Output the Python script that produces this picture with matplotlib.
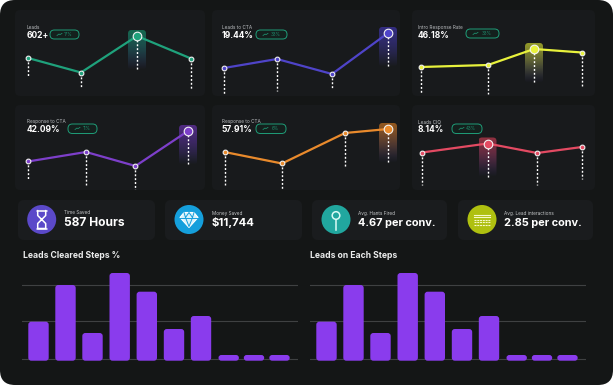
import numpy as np
import matplotlib
matplotlib.use('Agg')
import matplotlib.pyplot as plt
from matplotlib.patches import FancyBboxPatch, Circle, Polygon
from matplotlib.colors import to_rgb

W, H = 613, 385
plt.rcParams['font.family'] = ['Inter', 'DejaVu Sans']

BG = '#141616'
CARD = '#181a1c'
KPI_CARD = '#1a1c1e'

# line panels: values are heights above the bottom of each card
panel_titles = ['Leads', 'Leads to CTA', 'Intro Response Rate',
                'Response to CTA', 'Response to CTA', 'Leads CIQ']
panel_values = ['602+', '19.44%', '46.18%', '42.09%', '57.91%', '8.14%']
panel_pills = ['17%', '33%', '33%', '11%', '6%', '43%']
panel_colors = ['#1fa27c', '#4f44c9', '#e8f23c', '#7d3fca', '#e98a2c', '#e34a62']
panel_peak = [2, 3, 2, 3, 3, 1]

leads_x = [13, 66, 122, 176]
leads_y = [38, 23.5, 60, 37.5]
leads_stem = [20, 9, 25, 6]
cta_x = [12, 65, 120, 176]
cta_y = [28, 37, 22, 63]
cta_stem = [1, 5, 8, 28]
intro_x = [9, 76, 122, 170]
intro_y = [29, 31, 47, 43.5]
intro_stem = [2, 2, 12, 10]
resp_x = [13, 71, 120.5, 173]
resp_y = [28.5, 38, 24, 59]
resp_stem = [10, 5, 0, 24]
resp2_x = [12.5, 70, 133, 176]
resp2_y = [38, 26.5, 57, 61]
resp2_stem = [5, 1, 23, 27]
ciq_x = [10, 75.5, 125, 170]
ciq_y = [37.5, 46.5, 37, 43]
ciq_stem = [5, 12, 5, 11]

series_x = [leads_x, cta_x, intro_x, resp_x, resp2_x, ciq_x]
series_y = [leads_y, cta_y, intro_y, resp_y, resp2_y, ciq_y]
series_stem = [leads_stem, cta_stem, intro_stem, resp_stem, resp2_stem, ciq_stem]

# kpi row
kpi_labels = ['Time Saved', 'Money Saved', 'Avg. Hants Fired', 'Avg. Lead interactions']
kpi_values = ['587 Hours', '$11,744', '4.67 per conv.', '2.85 per conv.']
kpi_sizes = [8.6, 8.2, 7.9, 7.9]
kpi_colors = ['#5b49c9', '#159fdc', '#21a79f', '#afc010']

# bar charts
bar_titles = ['Leads Cleared Steps %', 'Leads on Each Steps']
bar_x = [16.5, 43.5, 70.5, 97.7, 124.8, 152, 179, 206.7, 232, 257.5]
bar_values = [39, 75.7, 27.7, 87.7, 69, 31.7, 44.7, 5.7, 5.7, 5.7]
bar_grid = [1.7, 39.4, 75.4]

# layout, pixel boxes (left, top, width, height)
card_boxes = [(15, 10, 190, 86), (212, 10, 188, 86), (412, 10, 183, 86),
              (15, 105, 190, 85), (212, 105, 188, 85), (412, 105, 183, 85)]
pill_boxes = [(50, 30, 29, 9), (256, 30, 31, 9), (466, 29, 33, 9),
              (68, 124, 29, 9.5), (256, 124, 30, 9.5), (452, 124, 30, 9.5)]
text_x = [27, 222, 418, 27, 222, 418]
text_y = [27.5, 27.5, 27.5, 121.5, 121.5, 121.5]
kpi_boxes = [(18, 200, 137, 40), (165, 200, 137, 40), (312, 200, 135, 40), (458, 200, 135, 40)]
kpi_cx = [41.7, 189, 336, 482]
kpi_tx = [64, 212, 358, 504]
bar_boxes = [(22, 270, 276, 95), (310, 270, 276, 95)]
bar_title_x = [23, 310]


def box_axes(fig, box):
    l, t, w, h = box
    ax = fig.add_axes([l / W, 1 - (t + h) / H, w / W, h / H])
    ax.set_xlim(0, w)
    ax.set_ylim(0, h)
    ax.axis('off')
    ax.patch.set_alpha(0)
    return ax


def rounded(ax, x, y, w, h, r, **kw):
    p = FancyBboxPatch((x, y), w, h, boxstyle=f'round,pad=0,rounding_size={r}', **kw)
    ax.add_patch(p)
    return p


def glow(ax, x, top, color):
    # gradient behind the highlighted point
    rgb = to_rgb(color)
    n = 64
    grad = np.zeros((n, 1, 4))
    t = np.linspace(0, 1, n)
    end = (0.16, 0.16, 0.30)
    for i in range(3):
        grad[:, 0, i] = rgb[i] * (1 - t) * 0.7 + end[i] * t
    grad[:, 0, 3] = 0.9 * (1 - t ** 3)
    l, b, w, h = x - 9, top - 40, 18, 40
    im = ax.imshow(grad, extent=(l, l + w, b, b + h), aspect='auto', zorder=1)
    clip = rounded(ax, l, b, w, h, 3.5, fc='none', ec='none')
    im.set_clip_path(clip)


def draw_panel(fig, i):
    ax = box_axes(fig, card_boxes[i])
    _, _, w, h = card_boxes[i]
    x, y, stem = series_x[i], series_y[i], series_stem[i]
    c = panel_colors[i]
    pk = panel_peak[i]
    glow(ax, x[pk], y[pk] + 6, c)
    ax.set_xlim(0, w)
    ax.set_ylim(0, h)
    for a, b, s in zip(x, y, stem):
        ax.plot([a, a], [b, s], color='white', lw=1.0, ls=(0, (1.4, 1.4)), zorder=2)
    ax.plot(x, y, color=c, lw=1.6, zorder=3, solid_capstyle='round')
    small = [j for j in range(len(x)) if j != pk]
    ax.plot([x[j] for j in small], [y[j] for j in small], 'o', ms=3.4, mfc=c,
            mec='#f0f0f0', mew=0.8, zorder=4)
    ax.plot([x[pk]], [y[pk]], 'o', ms=6.2, mfc=c, mec='#f4f4f4', mew=0.8, zorder=4)


def draw_icon(bg, i, cx, cy):
    lc = dict(color='white', lw=1.1, solid_capstyle='round')
    if i == 0:
        bg.plot([cx - 5, cx + 5], [cy - 9, cy - 9], **lc)
        bg.plot([cx - 5, cx + 5], [cy + 9, cy + 9], **lc)
        bg.plot([cx - 4, cx - 4, cx + 4, cx + 4, cx - 4, cx - 4, cx + 4, cx + 4],
                [cy - 9, cy - 4, cy + 4, cy + 9, cy + 9, cy + 4, cy - 4, cy - 9], **lc)
    elif i == 1:
        bg.add_patch(Polygon([(cx - 9, cy - 2), (cx - 5, cy - 7), (cx + 5, cy - 7),
                              (cx + 9, cy - 2), (cx, cy + 8)], fc='#d8f2fb', ec='white', lw=0.8))
        bg.plot([cx - 9, cx + 9], [cy - 2, cy - 2], color='#159fdc', lw=0.7)
        bg.plot([cx - 3.5, cx, cx + 3.5], [cy - 2, cy + 7, cy - 2], color='#159fdc', lw=0.7)
        bg.plot([cx - 5, cx - 3.5, cx, cx + 3.5, cx + 5], [cy - 7, cy - 2, cy - 7, cy - 2, cy - 7],
                color='#159fdc', lw=0.7)
    elif i == 2:
        bg.add_patch(Circle((cx, cy - 4), 3.8, fc='none', ec='#d9fbf6', lw=1.1))
        bg.plot([cx, cx], [cy, cy + 10], color='#d9fbf6', lw=1.1)
    else:
        for k, dy in enumerate([-5, -2.5, 0, 2.5, 5]):
            style = '-' if k < 2 else (0, (1.8, 0.7))
            bg.plot([cx - 8, cx + 8], [cy + dy, cy + dy], color='#f6f8c8', lw=0.8, ls=style)


fig = plt.figure(figsize=(W / 100, H / 100), dpi=100, facecolor='white')

bg = fig.add_axes([0, 0, 1, 1])
bg.set_xlim(0, W)
bg.set_ylim(H, 0)
bg.axis('off')
rounded(bg, 0, 0, W, H, 15, fc=BG, ec='none')

for i, box in enumerate(card_boxes):
    l, t, w, h = box
    rounded(bg, l, t, w, h, 5, fc=CARD, ec='none')
    bg.text(text_x[i], text_y[i], panel_titles[i], color='#b9bcbf', fontsize=3.4, va='center')
    bg.text(text_x[i], text_y[i] + 7.5, panel_values[i], color='white', fontsize=6.1,
            fontweight='bold', va='center')
    pl, pt, pw, ph = pill_boxes[i]
    rounded(bg, pl, pt, pw, ph, 4.4, fc='#14201d', ec='#1f9d78', lw=0.7)
    bg.plot([pl + 7, pl + 9, pl + 10, pl + 12], [pt + 5.5, pt + 4, pt + 4.6, pt + 3.4],
            color='#1f9d78', lw=0.5)
    bg.text(pl + pw * 0.64, pt + ph / 2, panel_pills[i], color='#1d8a6b', fontsize=3.2,
            ha='center', va='center')

for i, box in enumerate(kpi_boxes):
    l, t, w, h = box
    rounded(bg, l, t, w, h, 6, fc=KPI_CARD, ec='none')
    bg.add_patch(Circle((kpi_cx[i], 219.5), 14.5, fc=kpi_colors[i], ec='none'))
    draw_icon(bg, i, kpi_cx[i], 219.5)
    bg.text(kpi_tx[i], 213, kpi_labels[i], color='#c4c6c8', fontsize=3.4, va='center')
    bg.text(kpi_tx[i], 223, kpi_values[i], color='white', fontsize=kpi_sizes[i],
            fontweight='bold', va='center')

for i in range(6):
    draw_panel(fig, i)

for i, box in enumerate(bar_boxes):
    bg.text(bar_title_x[i], 256, bar_titles[i], color='#eceded', fontsize=6.2,
            fontweight='bold', va='center')
    ax = box_axes(fig, box)
    _, _, w, h = box
    ax.set_ylim(-4.3, h - 4.3)
    for g in bar_grid:
        ax.axhline(g, color='#3f4142', lw=0.8, zorder=1)
    for x, v in zip(bar_x, bar_values):
        r = min(3, v / 2 - 0.01)
        rounded(ax, x - 10.2, 0, 20.4, v, r, fc='#8a3ced', ec='none', zorder=2)

fig.savefig('out.png', dpi=100, facecolor='white')
